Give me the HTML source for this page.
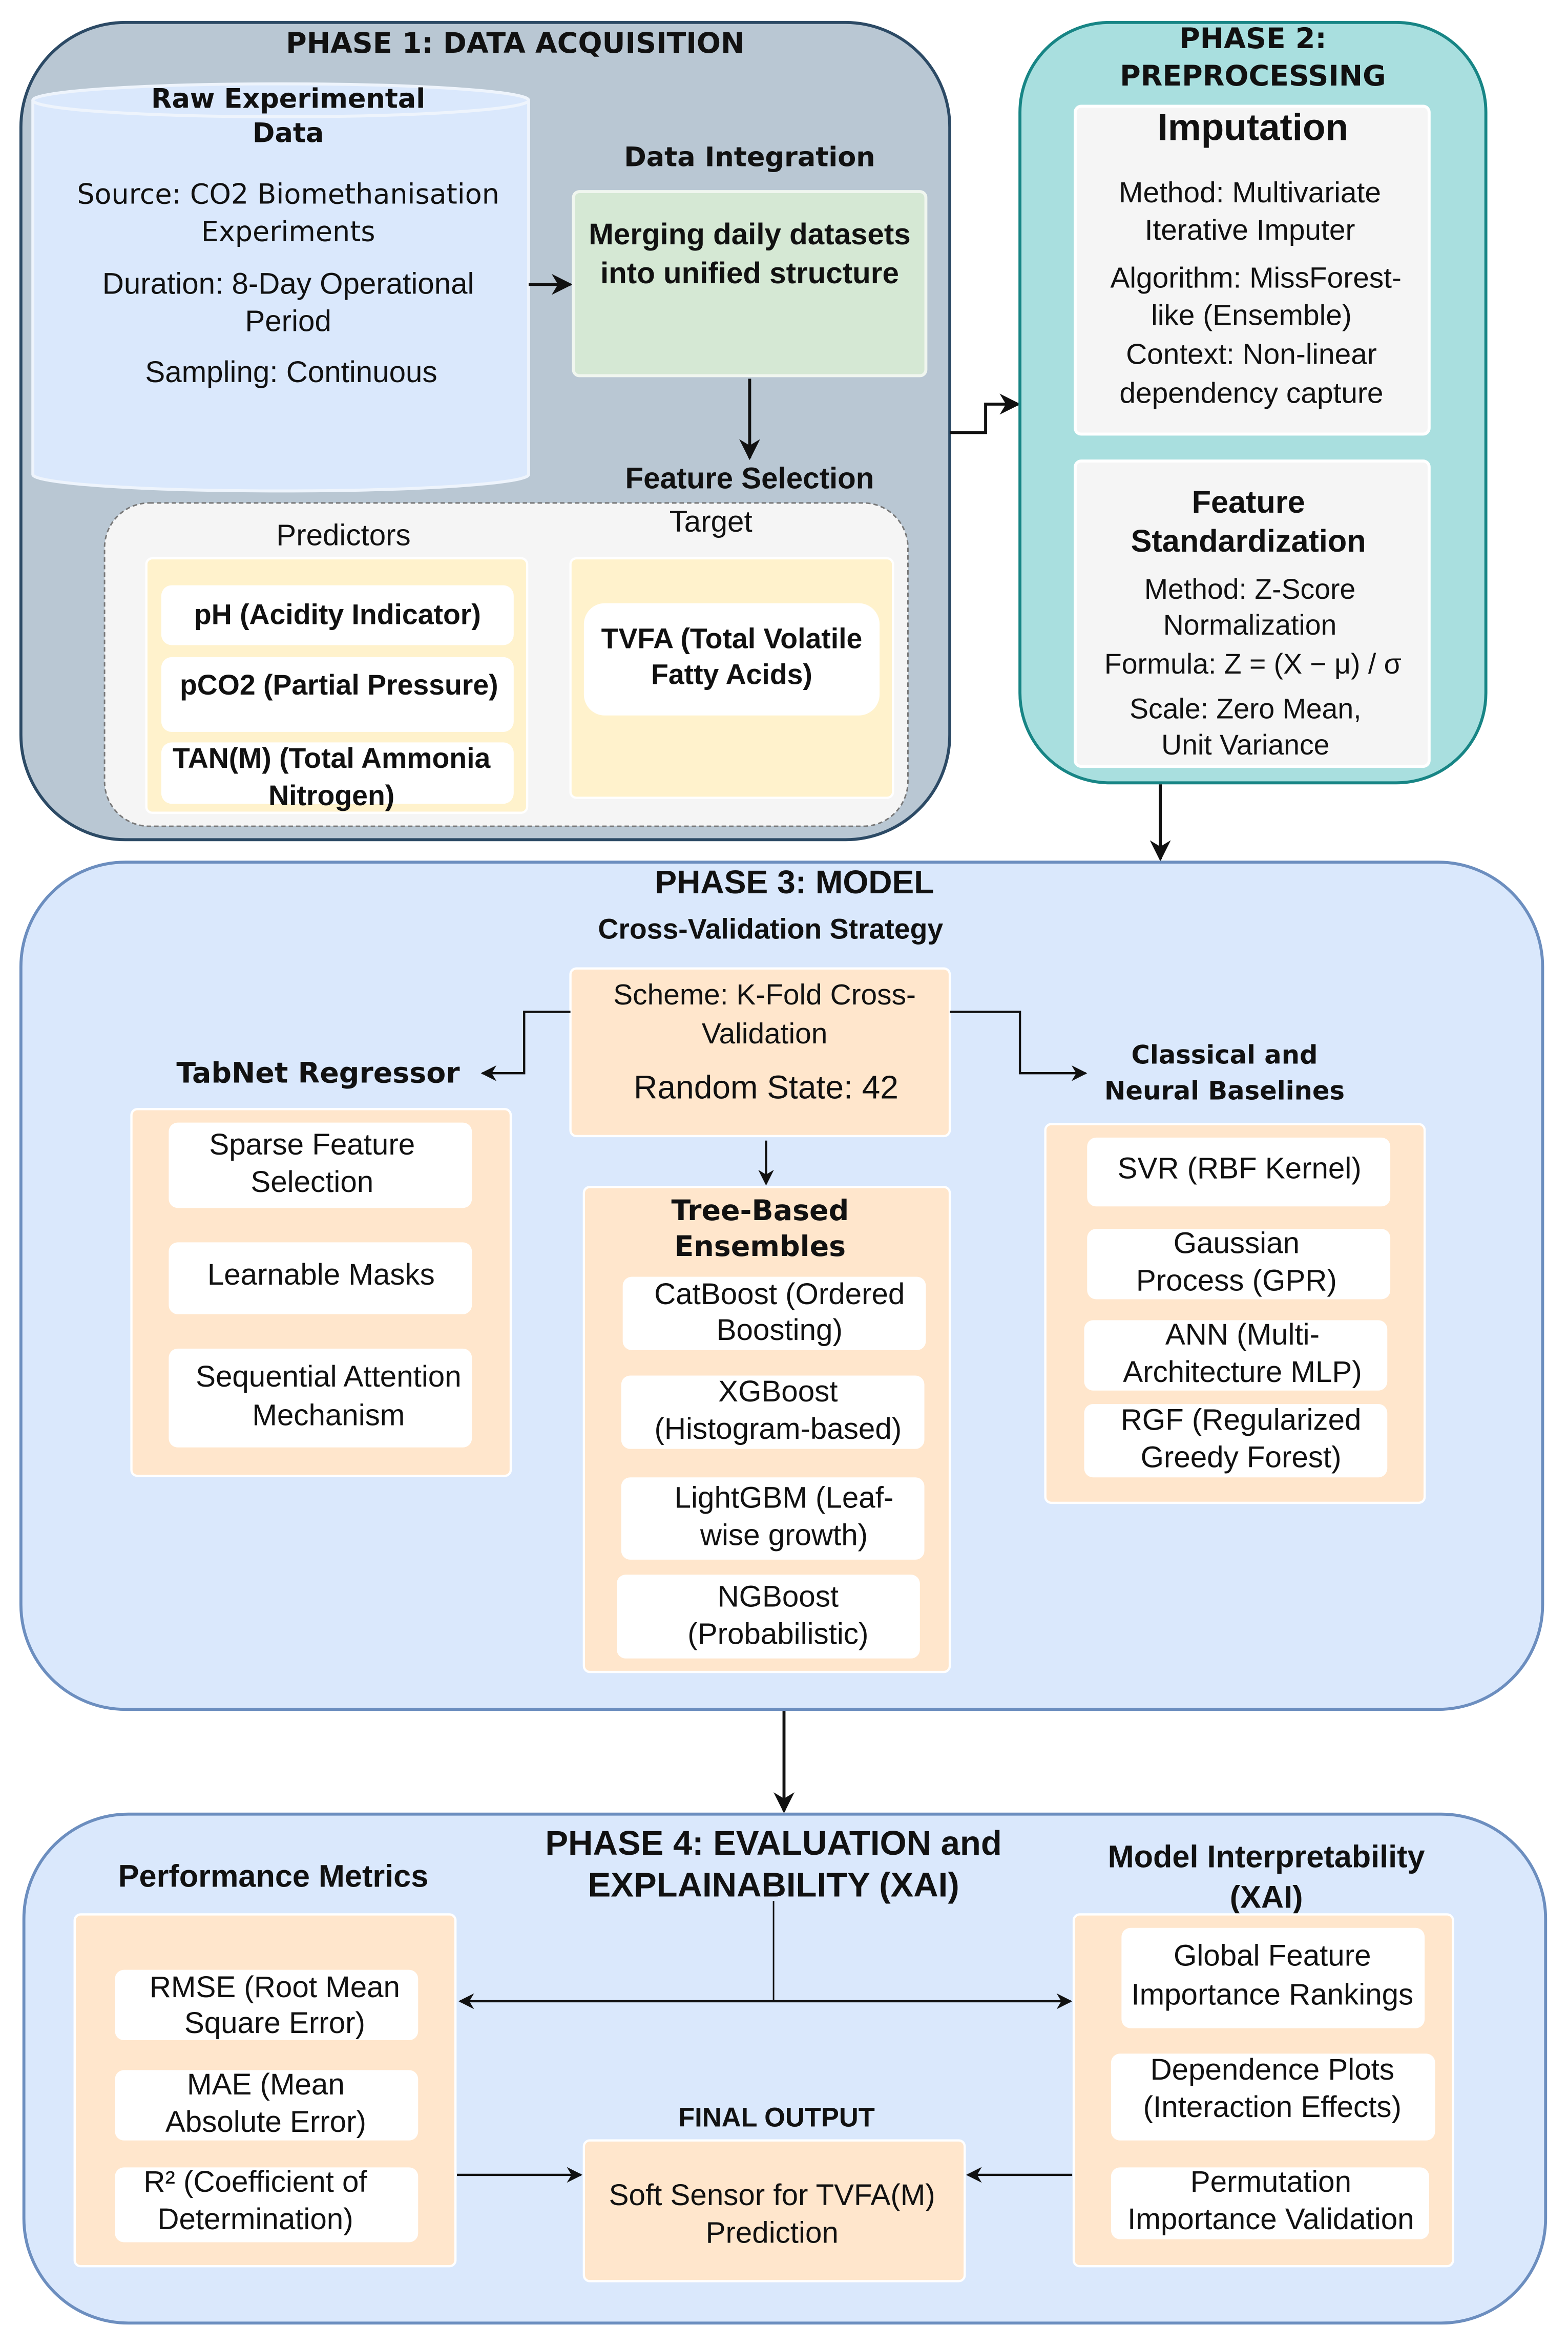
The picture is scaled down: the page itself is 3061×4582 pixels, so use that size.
<!DOCTYPE html>
<html><head><meta charset="utf-8"><style>html,body{margin:0;padding:0;background:#fff}svg{display:block}text{font-family:"Liberation Sans",sans-serif;fill:#111;text-anchor:middle;dominant-baseline:middle}.b{font-weight:bold}.d{font-family:"DejaVu Sans",sans-serif}</style></head><body>
<svg width="3061" height="4582" viewBox="0 0 1050 1568" preserveAspectRatio="none" xmlns="http://www.w3.org/2000/svg">
<defs><marker id="a" viewBox="0 0 10 10" refX="9" refY="5" markerWidth="7" markerHeight="7" orient="auto-start-reverse"><path d="M0,0 L10,5 L0,10 L3,5 z" fill="#111"/></marker></defs>
<!-- Phase 1 -->
<rect x="14" y="15" width="622" height="546" rx="70" fill="#b9c7d3" stroke="#2c4a65" stroke-width="2"/>
<text x="345" y="30" class="b d" font-size="19">PHASE 1: DATA ACQUISITION</text>
<path d="M22,67 L22,317 A166,11 0 0 0 354,317 L354,67" fill="#dae8fc" stroke="#eef4fc" stroke-width="2"/>
<ellipse cx="188" cy="67" rx="166" ry="11" fill="#dae8fc" stroke="#eef4fc" stroke-width="2"/>
<g font-size="19"><text x="193" y="67" class="b d" font-size="18">Raw Experimental</text><text x="193" y="90" class="b d" font-size="18">Data</text>
<text x="193" y="131" class="d" font-size="18.5">Source: CO2 Biomethanisation</text><text x="193" y="156" class="d" font-size="18.5">Experiments</text>
<text x="193" y="191" font-size="20">Duration: 8-Day Operational</text><text x="193" y="216" font-size="20">Period</text>
<text x="195" y="250" font-size="20">Sampling: Continuous</text></g>
<line x1="354" y1="190" x2="382" y2="190" stroke="#111" stroke-width="2" marker-end="url(#a)"/>
<text x="502" y="106" class="b d" font-size="18">Data Integration</text>
<rect x="384" y="128" width="236" height="123" rx="4" fill="#d5e8d4" stroke="#f0f6ef" stroke-width="2"/>
<text x="502" y="158" class="b" font-size="20">Merging daily datasets</text><text x="502" y="184" class="b" font-size="20">into unified  structure</text>
<line x1="502" y1="253" x2="502" y2="306" stroke="#111" stroke-width="2" marker-end="url(#a)"/>
<text x="502" y="321" class="b" font-size="20">Feature Selection</text>
<rect x="70" y="336" width="538" height="216" rx="30" fill="#f5f5f5" stroke="#777" stroke-width="1" stroke-dasharray="3,2"/>
<text x="230" y="359" font-size="20">Predictors</text><text x="476" y="350" font-size="20">Target</text>
<rect x="98" y="373" width="255" height="170" rx="4" fill="#fff2cc" stroke="#fff" stroke-width="1.5"/>
<rect x="108" y="391" width="236" height="40" rx="7" fill="#fff"/>
<rect x="108" y="439" width="236" height="50" rx="7" fill="#fff"/>
<rect x="108" y="496" width="236" height="41" rx="7" fill="#fff"/>
<g font-size="19"><text x="226" y="412" class="b">pH (Acidity Indicator)</text><text x="227" y="459" class="b">pCO2 (Partial Pressure)</text><text x="222" y="508" class="b">TAN(M) (Total Ammonia</text><text x="222" y="533" class="b">Nitrogen)</text></g>
<rect x="382" y="373" width="216" height="160" rx="4" fill="#fff2cc" stroke="#fff" stroke-width="1.5"/>
<rect x="391" y="403" width="198" height="75" rx="14" fill="#fff"/>
<text x="490" y="428" class="b" font-size="19">TVFA (Total Volatile</text><text x="490" y="452" class="b" font-size="19">Fatty Acids)</text>
<polyline points="636,289 660,289 660,270 682,270" fill="none" stroke="#111" stroke-width="2" marker-end="url(#a)"/>
<!-- Phase 2 -->
<rect x="683" y="15" width="312" height="508" rx="60" fill="#a9dfdf" stroke="#178585" stroke-width="2"/>
<text x="839" y="27" class="b d" font-size="19">PHASE 2:</text><text x="839" y="52" class="b d" font-size="19">PREPROCESSING</text>
<rect x="720" y="71" width="237" height="219" rx="4" fill="#f5f5f5" stroke="#fff" stroke-width="2"/>
<text x="839" y="87" class="b" font-size="25">Imputation</text>
<g font-size="19.5"><text x="837" y="130">Method: Multivariate</text><text x="837" y="155">Iterative Imputer</text><text x="841" y="187">Algorithm: MissForest-</text><text x="838" y="212">like (Ensemble)</text><text x="838" y="238">Context: Non-linear</text><text x="838" y="264">dependency capture</text></g>
<rect x="720" y="308" width="237" height="204" rx="4" fill="#f5f5f5" stroke="#fff" stroke-width="2"/>
<text x="836" y="337" class="b" font-size="21">Feature</text><text x="836" y="363" class="b" font-size="21">Standardization</text>
<g font-size="19"><text x="837" y="395">Method: Z-Score</text><text x="837" y="419">Normalization</text><text x="839" y="445">Formula: Z = (X − μ) / σ</text><text x="834" y="475">Scale: Zero Mean,</text><text x="834" y="499">Unit Variance</text></g>
<line x1="777" y1="524" x2="777" y2="574" stroke="#111" stroke-width="2" marker-end="url(#a)"/>
<!-- Phase 3 -->
<rect x="14" y="576" width="1019" height="566" rx="70" fill="#dae8fc" stroke="#6c8ebf" stroke-width="2"/>
<text x="532" y="591" class="b" font-size="22">PHASE 3: MODEL</text>
<text x="516" y="622" class="b" font-size="19">Cross-Validation Strategy</text>
<rect x="382" y="647" width="254" height="112" rx="4" fill="#ffe6cc" stroke="#fff" stroke-width="1.5"/>
<text x="512" y="666" font-size="19.5">Scheme: K-Fold Cross-</text><text x="512" y="692" font-size="19.5">Validation</text><text x="513" y="728" font-size="22">Random State: 42</text>
<polyline points="382,676 351,676 351,717 323,717" fill="none" stroke="#111" stroke-width="1.5" marker-end="url(#a)"/>
<polyline points="636,676 683,676 683,717 727,717" fill="none" stroke="#111" stroke-width="1.5" marker-end="url(#a)"/>
<line x1="513" y1="762" x2="513" y2="791" stroke="#111" stroke-width="1.5" marker-end="url(#a)"/>
<text x="213" y="718" class="b d" font-size="19">TabNet Regressor</text>
<text x="820" y="706" class="b d" font-size="17">Classical and</text><text x="820" y="730" class="b d" font-size="17">Neural Baselines</text>
<rect x="88" y="741" width="254" height="245" rx="4" fill="#ffe6cc" stroke="#fff" stroke-width="1.5"/>
<g fill="#fff"><rect x="113" y="750" width="203" height="57" rx="6"/><rect x="113" y="830" width="203" height="48" rx="6"/><rect x="113" y="901" width="203" height="66" rx="6"/></g>
<g font-size="20"><text x="209" y="766">Sparse Feature</text><text x="209" y="791">Selection</text><text x="215" y="853">Learnable Masks</text><text x="220" y="921">Sequential Attention</text><text x="220" y="947">Mechanism</text></g>
<rect x="391" y="793" width="245" height="324" rx="4" fill="#ffe6cc" stroke="#fff" stroke-width="1.5"/>
<text x="509" y="810" class="b d" font-size="19">Tree-Based</text><text x="509" y="834" class="b d" font-size="19">Ensembles</text>
<g fill="#fff"><rect x="417" y="853" width="203" height="49" rx="6"/><rect x="416" y="919" width="203" height="49" rx="6"/><rect x="416" y="987" width="203" height="55" rx="6"/><rect x="413" y="1052" width="203" height="56" rx="6"/></g>
<g font-size="20"><text x="522" y="866">CatBoost (Ordered</text><text x="522" y="890">Boosting)</text><text x="521" y="931">XGBoost</text><text x="521" y="956">(Histogram-based)</text><text x="525" y="1002">LightGBM (Leaf-</text><text x="525" y="1027">wise growth)</text><text x="521" y="1068">NGBoost</text><text x="521" y="1093">(Probabilistic)</text></g>
<rect x="700" y="751" width="254" height="253" rx="4" fill="#ffe6cc" stroke="#fff" stroke-width="1.5"/>
<g fill="#fff"><rect x="728" y="760" width="203" height="46" rx="6"/><rect x="728" y="821" width="203" height="47" rx="6"/><rect x="726" y="882" width="203" height="47" rx="6"/><rect x="726" y="938" width="203" height="49" rx="6"/></g>
<g font-size="20"><text x="830" y="782">SVR (RBF Kernel)</text><text x="828" y="832">Gaussian</text><text x="828" y="857">Process (GPR)</text><text x="832" y="893">ANN (Multi-</text><text x="832" y="918">Architecture MLP)</text><text x="831" y="950">RGF (Regularized</text><text x="831" y="975">Greedy Forest)</text></g>
<line x1="525" y1="1143" x2="525" y2="1210" stroke="#111" stroke-width="2" marker-end="url(#a)"/>
<!-- Phase 4 -->
<rect x="16" y="1212" width="1019" height="340" rx="70" fill="#dae8fc" stroke="#6c8ebf" stroke-width="2"/>
<text x="518" y="1233" class="b" font-size="23">PHASE 4: EVALUATION and</text><text x="518" y="1261" class="b" font-size="23">EXPLAINABILITY (XAI)</text>
<text x="183" y="1255" class="b" font-size="21">Performance Metrics</text>
<text x="848" y="1242" class="b" font-size="21">Model Interpretability</text><text x="848" y="1269" class="b" font-size="21">(XAI)</text>
<rect x="50" y="1279" width="255" height="235" rx="4" fill="#ffe6cc" stroke="#fff" stroke-width="1.5"/>
<g fill="#fff"><rect x="77" y="1316" width="203" height="47" rx="6"/><rect x="77" y="1383" width="203" height="47" rx="6"/><rect x="77" y="1448" width="203" height="50" rx="6"/></g>
<g font-size="20"><text x="184" y="1329">RMSE (Root Mean</text><text x="184" y="1353">Square Error)</text><text x="178" y="1394">MAE (Mean</text><text x="178" y="1419">Absolute Error)</text><text x="171" y="1459">R² (Coefficient of</text><text x="171" y="1484">Determination)</text></g>
<rect x="719" y="1279" width="254" height="235" rx="4" fill="#ffe6cc" stroke="#fff" stroke-width="1.5"/>
<g fill="#fff"><rect x="751" y="1288" width="203" height="67" rx="6"/><rect x="744" y="1372" width="217" height="58" rx="6"/><rect x="744" y="1448" width="213" height="48" rx="6"/></g>
<g font-size="20"><text x="852" y="1308">Global Feature</text><text x="852" y="1334">Importance Rankings</text><text x="852" y="1384">Dependence Plots</text><text x="852" y="1409">(Interaction Effects)</text><text x="851" y="1459">Permutation</text><text x="851" y="1484">Importance Validation</text></g>
<text x="520" y="1416" class="b" font-size="18">FINAL OUTPUT</text>
<rect x="391" y="1430" width="255" height="94" rx="4" fill="#ffe6cc" stroke="#fff" stroke-width="1.5"/>
<text x="517" y="1468" font-size="20">Soft Sensor for TVFA(M)</text><text x="517" y="1493" font-size="20">Prediction</text>
<line x1="518" y1="1270" x2="518" y2="1337" stroke="#111" stroke-width="1"/>
<line x1="308" y1="1337" x2="717" y2="1337" stroke="#111" stroke-width="1.5" marker-start="url(#a)" marker-end="url(#a)"/>
<line x1="306" y1="1453" x2="389" y2="1453" stroke="#111" stroke-width="1.5" marker-end="url(#a)"/>
<line x1="718" y1="1453" x2="648" y2="1453" stroke="#111" stroke-width="1.5" marker-end="url(#a)"/>
</svg>
</body></html>
